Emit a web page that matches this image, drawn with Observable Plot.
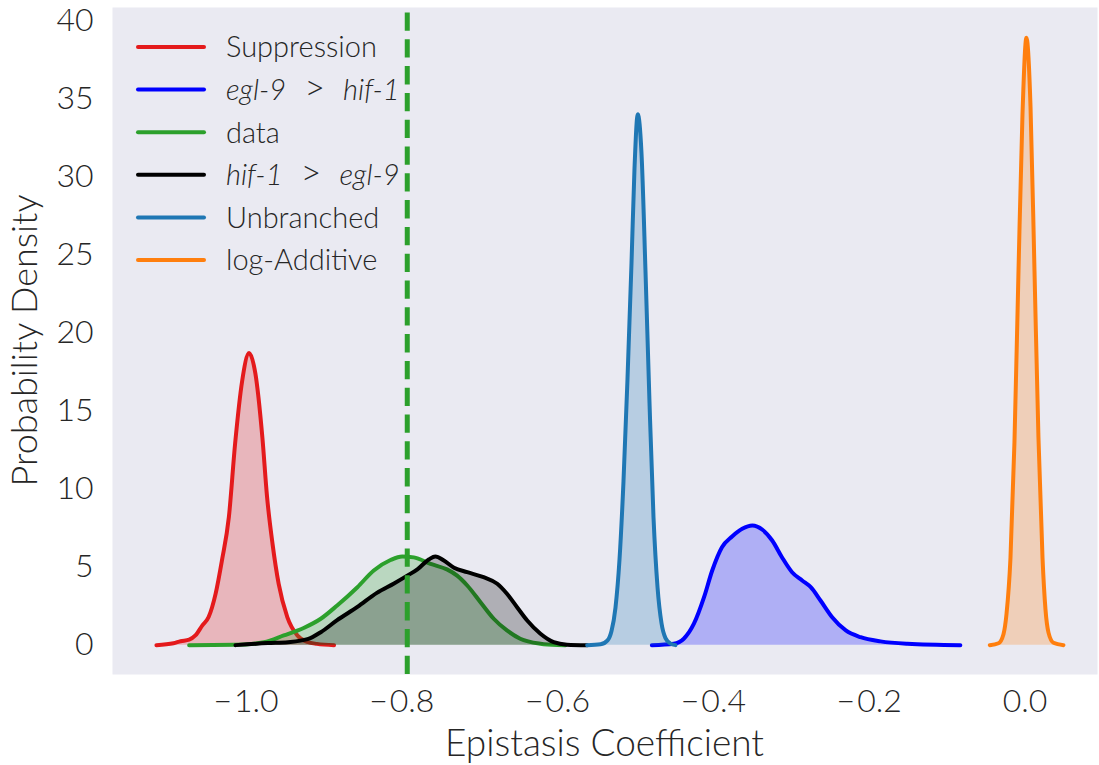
<!DOCTYPE html>
<html>
<head>
<meta charset="utf-8">
<script src="https://cdn.jsdelivr.net/npm/d3@7"></script>
<script src="https://cdn.jsdelivr.net/npm/@observablehq/plot@0.6"></script>
<style>
  html, body { margin: 0; padding: 0; background: #ffffff; }
  #chart { width: 1099px; height: 765px; }
</style>
</head>
<body>
<div id="chart"></div>
<script>
// Posterior densities of the epistasis coefficient: [coefficient, density]
const suppression = [
  [-1.115, 0.00], [-1.093, 0.12], [-1.084, 0.25], [-1.073, 0.35], [-1.065, 0.62],
  [-1.056, 1.27], [-1.048, 1.80], [-1.039, 3.30], [-1.031, 5.40], [-1.022, 8.20],
  [-1.014, 12.9], [-1.005, 16.9], [-0.996, 18.7], [-0.988, 17.4], [-0.979, 13.3],
  [-0.973, 9.50], [-0.966, 6.50], [-0.958, 3.90], [-0.947, 1.80], [-0.934, 0.62],
  [-0.921, 0.20], [-0.909, 0.08], [-0.887, 0.00]
];
const eglOverHif = [
  [-0.479, 0.00], [-0.451, 0.09], [-0.438, 0.41], [-0.425, 1.37], [-0.412, 3.07],
  [-0.4015, 4.78], [-0.389, 6.27], [-0.376, 6.96], [-0.363, 7.45], [-0.350, 7.66],
  [-0.337, 7.39], [-0.3245, 6.70], [-0.312, 5.63], [-0.299, 4.67], [-0.286, 4.14],
  [-0.275, 3.71], [-0.2625, 2.86], [-0.2475, 1.79], [-0.230, 0.94], [-0.211, 0.51],
  [-0.1855, 0.24], [-0.151, 0.09], [-0.083, 0.00]
];
const observed = [
  [-1.073, 0.00], [-1.0135, 0.02], [-0.977, 0.19], [-0.9515, 0.62], [-0.926, 1.10],
  [-0.904, 1.69], [-0.883, 2.54], [-0.857, 3.71], [-0.836, 4.78], [-0.8145, 5.45],
  [-0.7995, 5.68], [-0.7846, 5.62], [-0.763, 5.20], [-0.742, 4.85], [-0.729, 4.45],
  [-0.716, 3.82], [-0.699, 2.75], [-0.682, 1.69], [-0.665, 0.94], [-0.648, 0.41],
  [-0.622, 0.09], [-0.600, 0.01], [-0.590, 0.00]
];
const hifOverEgl = [
  [-1.0135, 0.00], [-0.972, 0.13], [-0.946, 0.19], [-0.921, 0.38], [-0.904, 0.83],
  [-0.883, 1.60], [-0.857, 2.45], [-0.832, 3.35], [-0.810, 3.95], [-0.793, 4.45],
  [-0.780, 4.85], [-0.765, 5.50], [-0.757, 5.68], [-0.746, 5.42], [-0.733, 4.96],
  [-0.716, 4.67], [-0.695, 4.35], [-0.6775, 3.93], [-0.665, 3.29], [-0.652, 2.43],
  [-0.639, 1.58], [-0.622, 0.73], [-0.605, 0.19], [-0.588, 0.03], [-0.562, 0.00]
];
const unbranched = [
  [-0.562, 0.00], [-0.5449, 0.05], [-0.5359, 0.30], [-0.5308, 0.90], [-0.5257, 2.40],
  [-0.5205, 5.50], [-0.5154, 10.5], [-0.5103, 17.0], [-0.5051, 24.5], [-0.5013, 30.5],
  [-0.4971, 34.0], [-0.4923, 31.5], [-0.4872, 24.0], [-0.4820, 15.5], [-0.4769, 8.20],
  [-0.4717, 3.70], [-0.4666, 1.40], [-0.4615, 0.45], [-0.4551, 0.10], [-0.4487, 0.00]
];
const logAdditive = [
  [-0.0452, 0.00], [-0.034, 0.12], [-0.0276, 0.70], [-0.0237, 2.00], [-0.0186, 5.60],
  [-0.0135, 13.0], [-0.0083, 24.0], [-0.0032, 34.0], [0.0019, 38.9], [0.0071, 34.5],
  [0.0122, 24.0], [0.0173, 13.3], [0.0225, 5.60], [0.0263, 2.30], [0.0302, 0.80],
  [0.0366, 0.15], [0.0494, 0.00]
];

// Mean of the measured coefficient (dashed marker)
const dataMean = -0.793;

const seriesNames = ["Suppression", "egl-9 > hif-1", "data", "hif-1 > egl-9", "Unbranched", "log-Additive"];
const seriesColors = ["#e41a1c", "#0000ff", "#2ca02c", "#000000", "#1f77b4", "#ff7f0e"];
const italicTerms = ["egl-9", "hif-1"];

const xTicks = [-1.0, -0.8, -0.6, -0.4, -0.2, 0.0];
const yTicks = [0, 5, 10, 15, 20, 25, 30, 35, 40];

const xTitle = "Epistasis Coefficient";
const yTitle = "Probability Density";

const ink = "#262626";
const font = "Lato, 'Open Sans', sans-serif";

const seriesData = [suppression, eglOverHif, observed, hifOverEgl, unbranched, logAdditive];

// Tick text: one decimal, with a little air after the minus sign
const fmt1 = d3.format(".1f");
const tickText = d => fmt1(d).replace("\u2212", "\u2212\u200a");

// Legend and axis titles, drawn relative to the plot frame
function decorations(index, scales, values, dims) {
  const {marginLeft, marginTop, marginRight, marginBottom, width, height} = dims;
  const g = d3.create("svg:g")
    .attr("fill", ink).attr("font-family", font).attr("font-weight", 300)
    .attr("text-anchor", "start");

  seriesNames.forEach((name, i) => {
    const yy = marginTop + 40 + 42.6 * i;
    g.append("line")
      .attr("x1", marginLeft + 26).attr("x2", marginLeft + 92)
      .attr("y1", yy).attr("y2", yy)
      .attr("stroke", seriesColors[i]).attr("stroke-width", 4)
      .attr("stroke-linecap", "round");
    const t = g.append("text")
      .attr("x", marginLeft + 114).attr("y", yy).attr("dy", "0.36em")
      .attr("font-size", 29).style("white-space", "pre");
    // gene names in italics, relation symbol set larger with math-like spacing
    name.split(/(egl-9|hif-1)/).filter(s => s).forEach(s => {
      const italic = italicTerms.includes(s);
      const relation = !italic && s.trim() === ">";
      t.append("tspan")
        .attr("font-style", italic ? "italic" : null)
        .attr("font-size", relation ? 36 : null)
        .text(relation ? "\u2002>\u2002" : s);
    });
  });

  const cx = (marginLeft + width - marginRight) / 2;
  const cy = (marginTop + height - marginBottom) / 2;
  g.append("text")
    .attr("x", cx).attr("y", 756)
    .attr("text-anchor", "middle").attr("font-size", 37)
    .text(xTitle);
  g.append("text")
    .attr("transform", `translate(37,${cy}) rotate(-90)`)
    .attr("text-anchor", "middle").attr("font-size", 36)
    .text(yTitle);
  return g.node();
}

const chart = Plot.plot({
  width: 1099,
  height: 765,
  marginLeft: 112,
  marginRight: 2,
  marginTop: 7,
  marginBottom: 91,
  style: {fontFamily: font, fontSize: "32px", fontWeight: 300, color: ink, background: "transparent", overflow: "visible"},
  x: {domain: [-1.1714, 0.0931], label: null},
  y: {domain: [-1.88, 40.83], label: null},
  marks: [
    Plot.frame({fill: "#eaeaf2", stroke: null}),
    ...seriesData.flatMap((pts, i) => [
      Plot.areaY(pts, {x: d => d[0], y: d => d[1], fill: seriesColors[i], fillOpacity: 0.25, curve: "monotone-x"}),
      Plot.lineY(pts, {x: d => d[0], y: d => d[1], stroke: seriesColors[i], strokeWidth: 4,
        curve: "monotone-x", strokeLinejoin: "round", strokeLinecap: "round"})
    ]),
    Plot.ruleX([dataMean], {y1: -1.88, y2: 40.83, stroke: "#2ca02c", strokeWidth: 5, strokeDasharray: "18.3,8.5"}),
    Plot.axisX({ticks: xTicks, tickSize: 0, tickPadding: 15, tickFormat: tickText, label: null}),
    Plot.axisY({ticks: yTicks, tickSize: 0, tickPadding: 19, label: null}),
    decorations
  ]
});

document.getElementById("chart").appendChild(chart);
</script>
</body>
</html>
